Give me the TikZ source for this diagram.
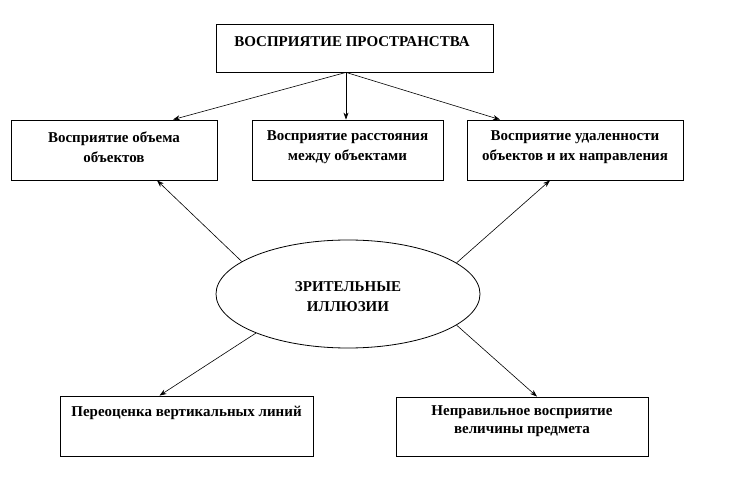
\documentclass[tikz,border=0pt]{standalone}
\usepackage{fontspec}
\setmainfont{Liberation Serif}
\usetikzlibrary{arrows.meta,shapes.geometric,calc}
\begin{document}
\begin{tikzpicture}[x=1pt,y=-1pt,
  box/.style={draw=black,line width=0.8pt,rectangle,inner sep=0pt},
  lbl/.style={font=\fontsize{15}{20}\selectfont\bfseries,align=center,inner sep=0pt},
  arr/.style={line width=0.6pt,-{Stealth[length=7pt,width=5pt]}}]
\useasboundingbox[fill=white] (0,0) rectangle (732,492);
% boxes
\node[box,minimum width=277,minimum height=48] (top) at (354.5,48) {};
\node[box,minimum width=206,minimum height=60] (l) at (114,150) {};
\node[box,minimum width=191,minimum height=60] (m) at (347.5,150) {};
\node[box,minimum width=216,minimum height=60] (r) at (575,150) {};
\node[box,minimum width=253,minimum height=60] (bl) at (186.5,426) {};
\node[box,minimum width=252,minimum height=59] (br) at (522,426.5) {};
\node[draw=black,line width=0.8pt,ellipse,minimum width=264,minimum height=108,inner sep=0pt] (e) at (348,294) {};
% texts
\node[lbl] (ttop) at (352,42) {ВОСПРИЯТИЕ ПРОСТРАНСТВА};
\node[lbl] (tl) at (114,147) {Восприятие объема\\объектов};
\node[lbl] (tm) at (347.5,147) {Восприятие расстояния\\между объектами};
\node[lbl] (tr) at (575,147) {Восприятие удаленности\\объектов  и их направления};
\node[lbl] (tbl) at (186.5,413) {Переоценка вертикальных линий};
\node[lbl,font=\fontsize{15}{18}\selectfont\bfseries] (tbr) at (522,421) {Неправильное восприятие\\величины предмета};
\node[lbl] (te) at (348,297) {ЗРИТЕЛЬНЫЕ\\ИЛЛЮЗИИ};
% connectors
\coordinate (src) at ($(top.south)+(-8.5,0)$);
\draw[arr] (src) -- ($(l.north)+(59,0)$);
\draw[arr] (src) -- ($(m.north)+(-1.5,0)$);
\draw[arr] (src) -- ($(r.north)+(-75,0)$);
\draw[arr] (e.163.8) -- ($(l.south)+(43,0)$);
\draw[arr] (e.16.2) -- ($(r.south)+(-25,0)$);
\draw[arr] (e.203.6) -- ($(bl.north)+(-27,0)$);
\draw[arr] (e.344.3) -- ($(br.north)+(15,0)$);
\end{tikzpicture}
\end{document}
